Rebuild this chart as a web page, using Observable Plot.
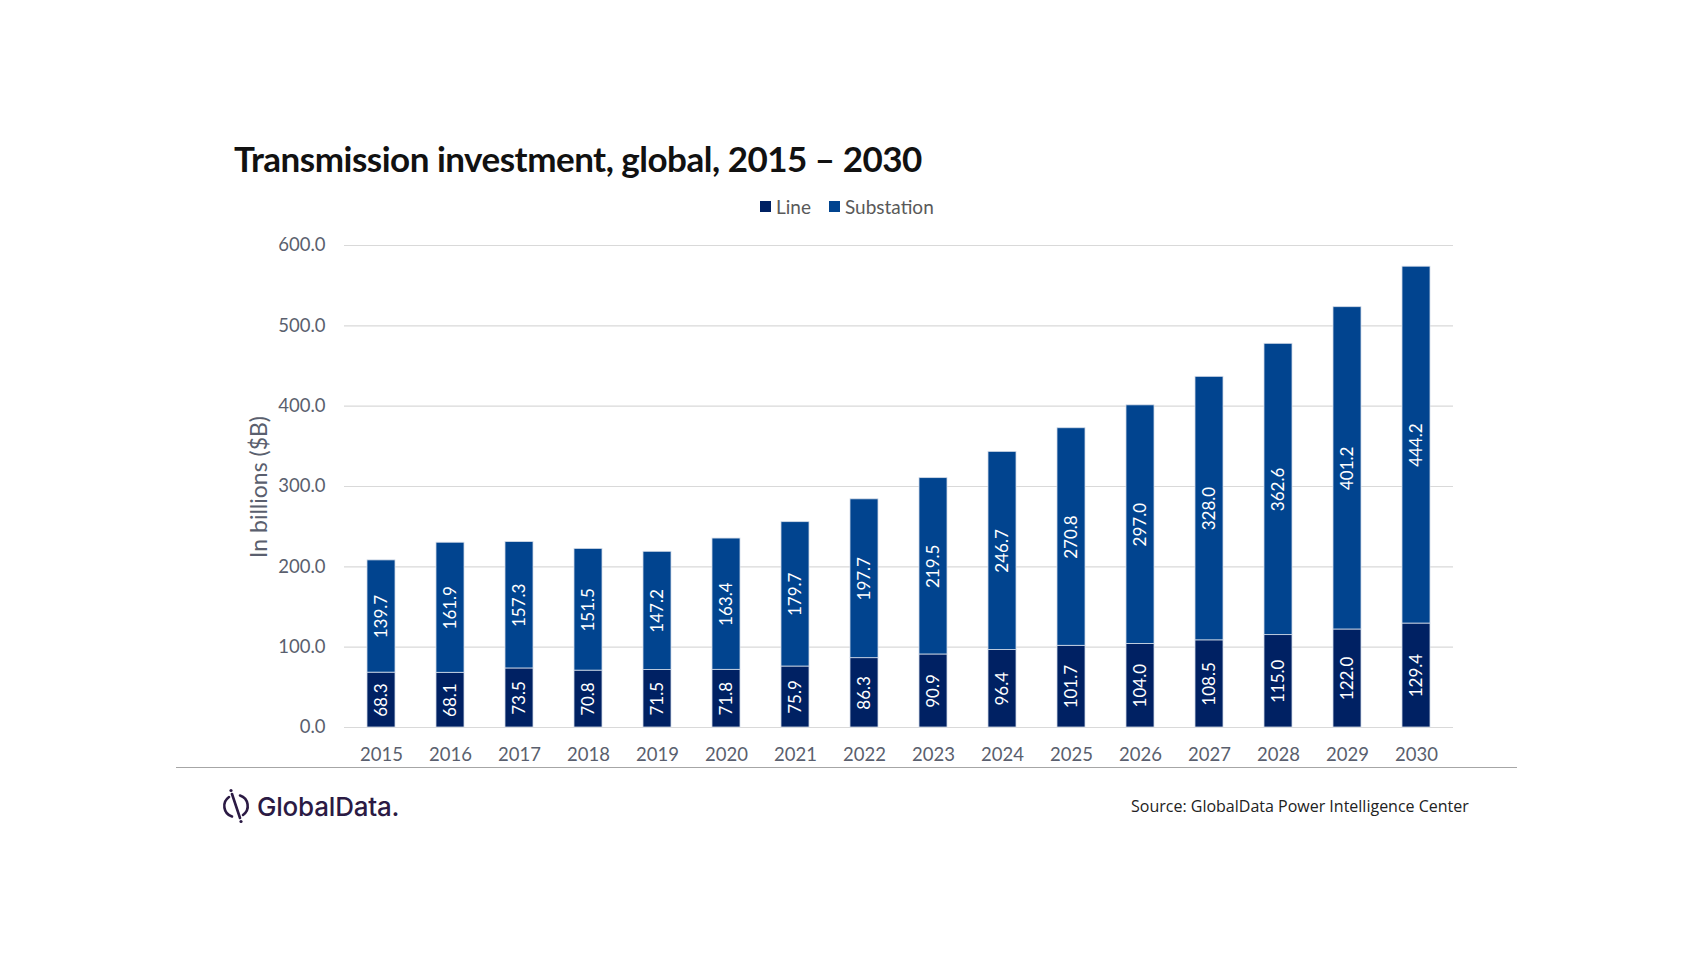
<!DOCTYPE html>
<html>
<head>
<meta charset="utf-8">
<script src="https://cdn.jsdelivr.net/npm/d3@7"></script>
<script src="https://cdn.jsdelivr.net/npm/@observablehq/plot@0.6"></script>
<style>
  html, body { margin: 0; padding: 0; background: #ffffff; }
  #page { position: relative; width: 1702px; height: 970px; overflow: hidden; font-family: Lato, "Open Sans", sans-serif; }
  #title { position: absolute; left: 234px; top: 137px; font-size: 35px; font-weight: 700; color: #111111; white-space: nowrap; letter-spacing: -0.5px; }
  #legend { position: absolute; left: 760px; top: 195px; font-size: 19px; color: #595959; white-space: nowrap; display: flex; align-items: center; }
  #legend .sw { display: inline-block; width: 11px; height: 11px; margin-right: 5px; }
  #legend .item { display: flex; align-items: center; margin-right: 18px; }
  #chart { position: absolute; left: 0; top: 220px; }
  #ylabel { position: absolute; left: 258px; top: 487px; transform: translate(-50%, -50%) rotate(-90deg); font-size: 23px; color: #5a5f6e; white-space: nowrap; }
  #sep { position: absolute; left: 176px; top: 767px; width: 1341px; height: 0; border-top: 1.5px solid #a6a6a6; }
  #source { position: absolute; left: 1131px; top: 795px; font-size: 16px; color: #222222; white-space: nowrap; font-family: "Open Sans", sans-serif; }
  #logo { position: absolute; left: 221px; top: 788px; display: flex; align-items: center; }
  #logo span { font-family: Inter, "Open Sans", sans-serif; font-size: 26px; font-weight: 500; color: #2b1a44; letter-spacing: -0.2px; margin-left: 6px; }
</style>
</head>
<body>
<div id="page">
  <div id="title">Transmission investment, global, 2015 – 2030</div>
  <div id="legend"></div>
  <div id="chart"></div>
  <div id="ylabel">In billions ($B)</div>
  <div id="sep"></div>
  <div id="logo">
    <svg width="30" height="36" viewBox="0 0 30 36">
      <path d="M19 7.5 A11 11 0 0 1 22 27" fill="none" stroke="#2b1a44" stroke-width="2.6" stroke-linecap="round"/>
      <path d="M11 28.5 A11 11 0 0 1 8 9" fill="none" stroke="#2b1a44" stroke-width="2.6" stroke-linecap="round"/>
      <path d="M11 6 L19 30" fill="none" stroke="#2b1a44" stroke-width="2.6" stroke-linecap="round"/>
      <circle cx="10" cy="2.5" r="1.6" fill="#2b1a44"/>
      <circle cx="20" cy="33.5" r="1.6" fill="#2b1a44"/>
    </svg>
    <span>GlobalData.</span>
  </div>
  <div id="source">Source: GlobalData Power Intelligence Center</div>
</div>
<script>
const years = ["2015","2016","2017","2018","2019","2020","2021","2022","2023","2024","2025","2026","2027","2028","2029","2030"];
const lineValues = [68.3, 68.1, 73.5, 70.8, 71.5, 71.8, 75.9, 86.3, 90.9, 96.4, 101.7, 104.0, 108.5, 115.0, 122.0, 129.4];
const substationValues = [139.7, 161.9, 157.3, 151.5, 147.2, 163.4, 179.7, 197.7, 219.5, 246.7, 270.8, 297.0, 328.0, 362.6, 401.2, 444.2];
const seriesNames = ["Line", "Substation"];
const seriesColors = ["#002163", "#01448f"];
const yTicks = [0, 100, 200, 300, 400, 500, 600];

const rows = years.flatMap((yr, i) => [
  {year: yr, series: "Line", value: lineValues[i]},
  {year: yr, series: "Substation", value: substationValues[i]}
]);

const legend = document.getElementById("legend");
seriesNames.forEach((s, i) => {
  const item = document.createElement("div");
  item.className = "item";
  item.innerHTML = `<span class="sw" style="background:${seriesColors[i]}"></span>${s}`;
  legend.appendChild(item);
});

const chart = Plot.plot({
  width: 1702,
  height: 560,
  marginLeft: 344,
  marginRight: 249,
  marginTop: 25,
  marginBottom: 53,
  style: {fontFamily: "Lato, 'Open Sans', sans-serif", fontSize: "18.5px", color: "#5a5f6e", background: "transparent"},
  x: {domain: years, paddingInner: 0.6, paddingOuter: 0.28, label: null},
  y: {domain: [0, 600], label: null},
  color: {domain: seriesNames, range: seriesColors},
  marks: [
    Plot.gridY(yTicks, {stroke: "#d9d9d9", strokeOpacity: 1, strokeWidth: 1.2}),
    Plot.barY(rows, {x: "year", y: "value", fill: "series", order: seriesNames, stroke: "#d3dbe8", strokeWidth: 0.8}),
    Plot.text(rows, Plot.stackY({x: "year", y: "value", z: "series", order: seriesNames, text: d => d.value.toFixed(1), rotate: -90, fill: "white", fontSize: 17})),
    Plot.axisX({tickSize: 0, tickPadding: 20, label: null}),
    Plot.axisY(yTicks, {tickSize: 0, tickPadding: 19, tickFormat: d => d.toFixed(1), label: null})
  ]
});
document.getElementById("chart").appendChild(chart);
</script>
</body>
</html>
